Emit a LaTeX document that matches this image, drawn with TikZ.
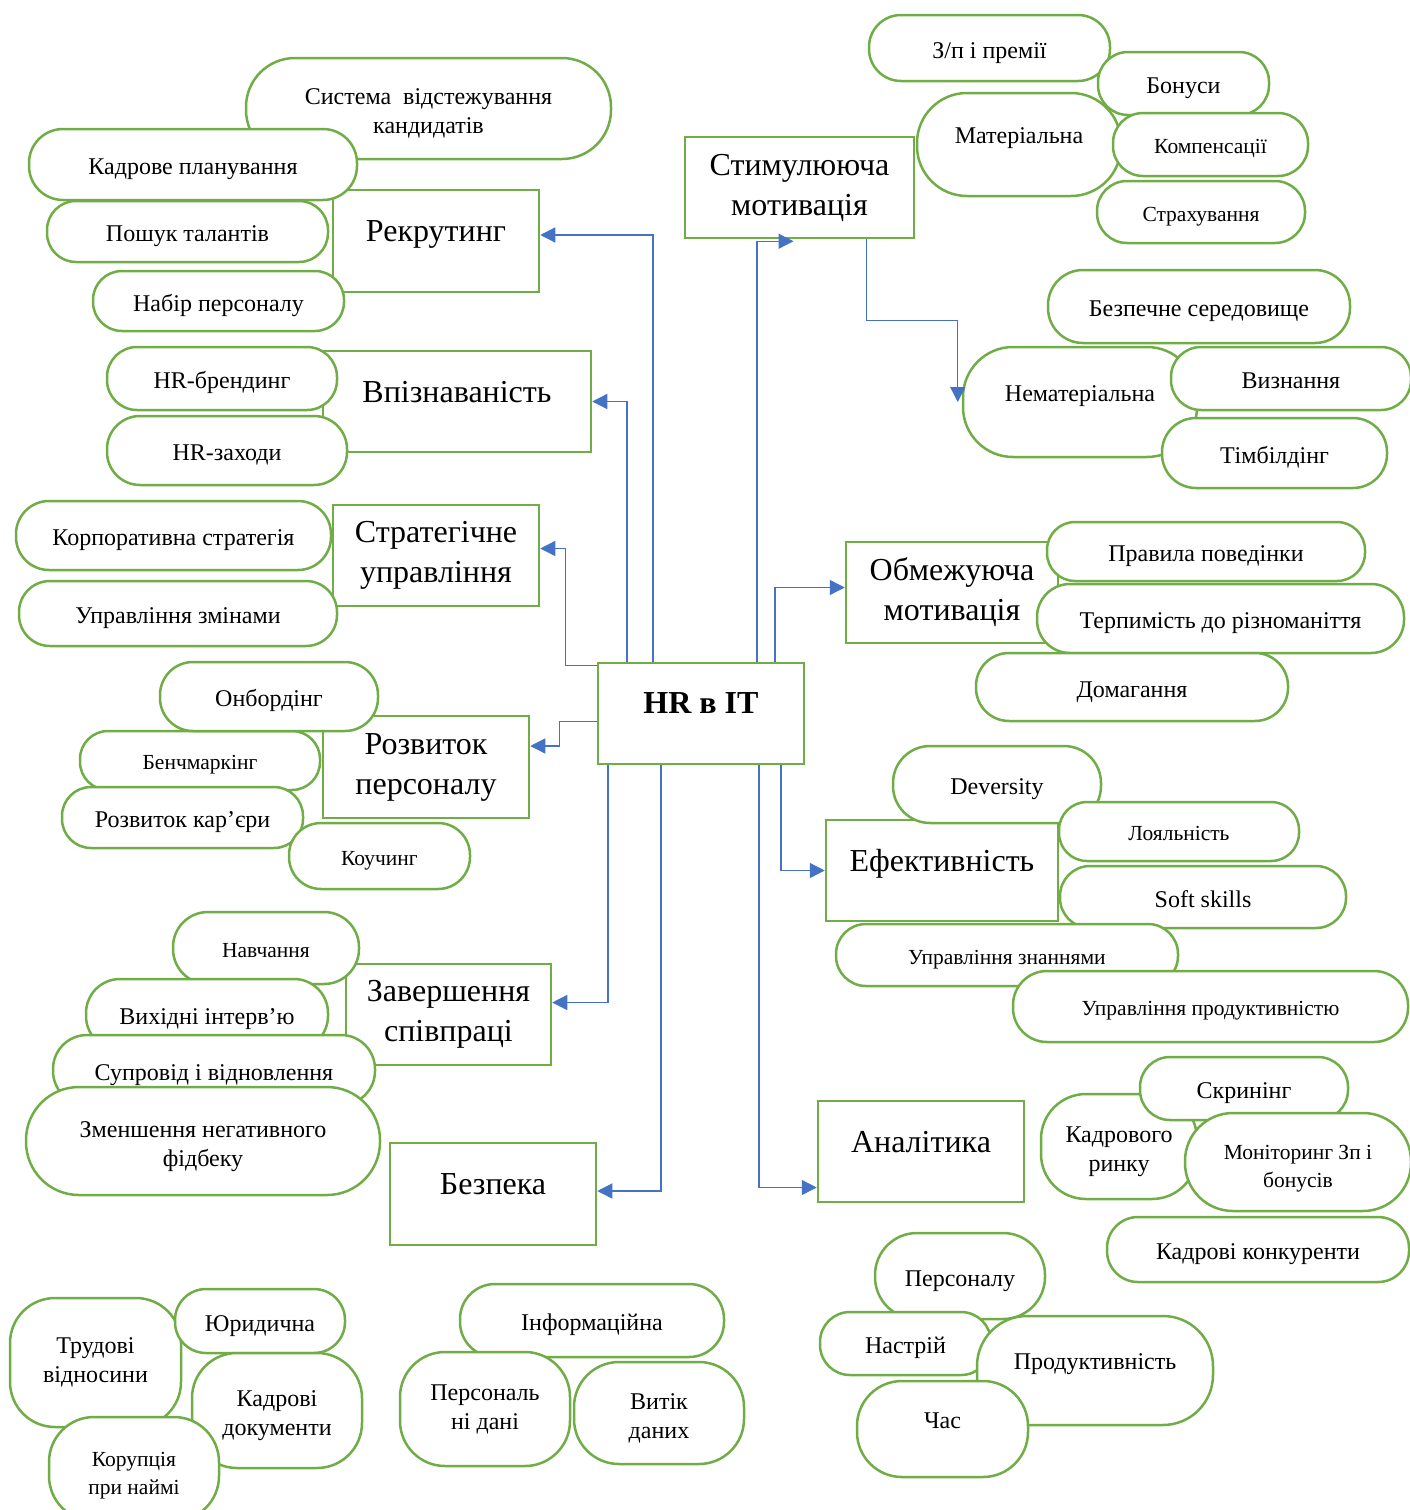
\documentclass[tikz,border=0pt]{standalone}
\usepackage{fontspec}
\setmainfont{Liberation Serif}
\usetikzlibrary{arrows.meta}
\definecolor{hrgreen}{HTML}{70AD47}
\definecolor{hrblue}{HTML}{4472C4}
\tikzstyle{mainbox} = [draw=hrgreen, line width=2.5pt, fill=white, align=center, font=\fontsize{32}{40}\selectfont]
\tikzstyle{pill} = [draw=hrgreen, line width=2.5pt, fill=white, align=center, text height=25pt, text depth=5pt, font=\fontsize{24}{29}\selectfont]
\tikzstyle{smallpill} = [pill, text height=22.5pt, text depth=4.5pt, font=\fontsize{21.5}{28}\selectfont]
\tikzstyle{twolines} = [text height=, text depth=]
\tikzstyle{lowered} = [text height=55pt, text depth=5pt]
\tikzstyle{lifted} = [text depth=20pt]
\tikzstyle{liftedpill} = [text depth=27pt]
\tikzstyle{arrow} = [draw=hrblue, line width=1.3pt, -{Triangle[length=15pt,width=15pt]}]

\begin{document}
\begin{tikzpicture}[x=1pt, y=-1pt]
        \useasboundingbox (0,0) rectangle (1409,1510);

        % Recruiting
        \node[pill, lowered, minimum width=365pt, minimum height=101pt, rounded corners=49pt] (tracking) at (428.5,108.5) {Система\ \ відстежування\\кандидатів};
        \node[mainbox, lifted, minimum width=206pt, minimum height=102pt] (recruit) at (436,241) {Рекрутинг};
        \node[pill, minimum width=328pt, minimum height=71pt, rounded corners=34pt] (planning) at (193,164.5) {Кадрове планування};
        \node[pill, minimum width=281pt, minimum height=61pt, rounded corners=29pt] (search) at (187.5,231.5) {Пошук талантів};
        \node[pill, minimum width=251pt, minimum height=60pt, rounded corners=29pt] (hiring) at (218.5,301) {Набір персоналу};

        % Brand
        \node[mainbox, lifted, minimum width=268pt, minimum height=101pt] (brand) at (457,401.5) {Впізнаваність};
        \node[pill, minimum width=230pt, minimum height=63pt, rounded corners=30pt] (hrbrand) at (222,378.5) {HR-брендинг};
        \node[pill, minimum width=240pt, minimum height=69pt, rounded corners=33pt] (hrevents) at (227,450.5) {HR-заходи};

        % Strategy
        \node[mainbox, minimum width=206pt, minimum height=101pt] (strat) at (436,555.5) {Стратегічне\\управління};
        \node[pill, minimum width=315pt, minimum height=69pt, rounded corners=33pt] (corp) at (173.5,535.5) {Корпоративна стратегія};
        \node[pill, minimum width=318pt, minimum height=65pt, rounded corners=31pt] (change) at (178,613.5) {Управління змінами};

        % Development
        \node[mainbox, minimum width=206pt, minimum height=102pt] (dev) at (426,767) {Розвиток\\персоналу};
        \node[smallpill, minimum width=240pt, minimum height=59pt, rounded corners=28pt] (bench) at (200,760.5) {Бенчмаркінг};
        \node[pill, minimum width=218pt, minimum height=69pt, rounded corners=33pt] (onboard) at (269,696.5) {Онбордінг};
        \node[pill, minimum width=241pt, minimum height=61pt, rounded corners=29pt] (career) at (182.5,817.5) {Розвиток кар’єри};
        \node[smallpill, minimum width=181pt, minimum height=66pt, rounded corners=32pt] (coach) at (379.5,856) {Коучинг};

        % Offboarding
        \node[mainbox, minimum width=205pt, minimum height=101pt] (ending) at (448.5,1014.5) {Завершення\\співпраці};
        \node[smallpill, minimum width=186pt, minimum height=72pt, rounded corners=35pt] (training) at (266,948) {Навчання};
        \node[pill, minimum width=242pt, minimum height=71pt, rounded corners=34pt] (exitint) at (207,1014.5) {Вихідні інтерв’ю};
        \node[pill, minimum width=322pt, minimum height=70pt, rounded corners=34pt] (support) at (214,1070) {Супровід і відновлення};
        \node[pill, lowered, minimum width=354pt, minimum height=108pt, rounded corners=53pt] (feedback) at (203,1141) {Зменшення негативного\\фідбеку};

        % Security
        \node[mainbox, lifted, minimum width=206pt, minimum height=102pt] (safety) at (493,1194) {Безпека};
        \node[pill, twolines, minimum width=171pt, minimum height=129pt, rounded corners=45pt] (labor) at (95.5,1362.5) {Трудові\\відносини};
        \node[pill, minimum width=170pt, minimum height=64pt, rounded corners=31pt] (legal) at (260,1321) {Юридична};
        \node[pill, lowered, minimum width=170pt, minimum height=115pt, rounded corners=45pt] (docs) at (277,1410.5) {Кадрові\\документи};
        \node[smallpill, lowered, minimum width=170pt, minimum height=104pt, rounded corners=45pt] (corrupt) at (134,1469) {Корупція\\при наймі};
        \node[pill, minimum width=264pt, minimum height=73pt, rounded corners=35pt] (infosec) at (592,1320.5) {Інформаційна};
        \node[pill, twolines, minimum width=170pt, minimum height=114pt, rounded corners=45pt] (personal) at (485,1409) {Персональ\\ні дані};
        \node[pill, lowered, minimum width=170pt, minimum height=102pt, rounded corners=45pt] (leak) at (659,1413) {Витік\\даних};

        % Stimulating motivation
        \node[mainbox, minimum width=229pt, minimum height=101pt] (stimul) at (799.5,187.5) {Стимулююча\\мотивація};
        \node[pill, minimum width=241pt, minimum height=66pt, rounded corners=32pt] (salary) at (989.5,48) {З/п і премії};
        \node[pill, liftedpill, minimum width=204pt, minimum height=103pt, rounded corners=50pt] (material) at (1019,144.5) {Матеріальна};
        \node[pill, minimum width=171pt, minimum height=63pt, rounded corners=30pt] (bonus) at (1183.5,83.5) {Бонуси};
        \node[smallpill, minimum width=195pt, minimum height=63pt, rounded corners=30pt] (compens) at (1210.5,144.5) {Компенсації};
        \node[smallpill, minimum width=208pt, minimum height=62pt, rounded corners=30pt] (insur) at (1201,212) {Страхування};
        \node[pill, minimum width=302pt, minimum height=73pt, rounded corners=35pt] (safeenv) at (1199,306.5) {Безпечне середовище};
        \node[pill, liftedpill, minimum width=234pt, minimum height=110pt, rounded corners=50pt] (nonmat) at (1080,402) {Нематеріальна};
        \node[pill, minimum width=240pt, minimum height=63pt, rounded corners=30pt] (recog) at (1291,378.5) {Визнання};
        \node[pill, minimum width=225pt, minimum height=70pt, rounded corners=34pt] (teamb) at (1274.5,453) {Тімбілдінг};

        % Restricting motivation
        \node[mainbox, minimum width=212pt, minimum height=101pt] (restrict) at (952,592.5) {Обмежуюча\\мотивація};
        \node[pill, minimum width=318pt, minimum height=59pt, rounded corners=28pt] (rules) at (1206,551.5) {Правила поведінки};
        \node[pill, minimum width=367pt, minimum height=69pt, rounded corners=33pt] (toler) at (1220.5,618.5) {Терпимість до різноманіття};
        \node[pill, minimum width=312pt, minimum height=68pt, rounded corners=33pt] (harass) at (1132,687) {Домагання};

        % Efficiency
        \node[mainbox, lifted, minimum width=232pt, minimum height=101pt] (efficiency) at (942,870.5) {Ефективність};
        \node[pill, minimum width=208pt, minimum height=77pt, rounded corners=37pt] (divers) at (997,784.5) {Deversity};
        \node[smallpill, minimum width=240pt, minimum height=59pt, rounded corners=28pt] (loyal) at (1179,831.5) {Лояльність};
        \node[pill, minimum width=286pt, minimum height=62pt, rounded corners=30pt] (soft) at (1203,897) {Soft skills};
        \node[smallpill, minimum width=342pt, minimum height=62pt, rounded corners=30pt] (knowl) at (1007,955) {Управління знаннями};
        \node[smallpill, minimum width=395pt, minimum height=71pt, rounded corners=34pt] (perf) at (1210.5,1006.5) {Управління продуктивністю};

        % Analytics
        \node[mainbox, lifted, minimum width=206pt, minimum height=101pt] (analytics) at (921,1151.5) {Аналітика};
        \node[pill, lowered, minimum width=156pt, minimum height=105pt, rounded corners=45pt] (market) at (1119,1146.5) {Кадрового\\ринку};
        \node[pill, minimum width=208pt, minimum height=63pt, rounded corners=30pt] (screen) at (1244,1088.5) {Скринінг};
        \node[smallpill, lowered, minimum width=226pt, minimum height=98pt, rounded corners=48pt] (monitor) at (1298,1162) {Моніторинг Зп і\\бонусів};
        \node[pill, minimum width=302pt, minimum height=65pt, rounded corners=31pt] (compet) at (1258,1249.5) {Кадрові конкуренти};
        \node[pill, minimum width=170pt, minimum height=86pt, rounded corners=42pt] (staff) at (960,1276) {Персоналу};
        \node[pill, minimum width=171pt, minimum height=63pt, rounded corners=30pt] (mood) at (905.5,1343.5) {Настрій};
        \node[pill, liftedpill, minimum width=236pt, minimum height=109pt, rounded corners=50pt] (product) at (1095,1370.5) {Продуктивність};
        \node[pill, liftedpill, minimum width=171pt, minimum height=96pt, rounded corners=45pt] (timenode) at (942.5,1429) {Час};

        % Centre
        \node[mainbox, lifted, minimum width=206pt, minimum height=101pt, font=\fontsize{32}{40}\selectfont\bfseries] (hr) at (701,713.5) {HR в IT};

        % Arrows
        \draw[arrow] ([xshift=-48pt]hr.north) |- ([yshift=6pt]recruit.east);
        \draw[arrow] ([xshift=-74pt]hr.north) |- (brand.east);
        \draw[arrow] ([yshift=48pt]hr.west) -- ++(-31pt,0pt) |- ([yshift=7pt]strat.east);
        \draw[arrow] ([yshift=-8pt]hr.west) -- ++(-37pt,0pt) |- ([yshift=21pt]dev.east);
        \draw[arrow] ([xshift=-93pt]hr.south) |- ([yshift=12pt]ending.east);
        \draw[arrow] ([xshift=-40pt]hr.south) |- ([yshift=3pt]safety.east);
        \draw[arrow] ([xshift=58pt]hr.south) |- ([yshift=-36pt]analytics.west);
        \draw[arrow] ([xshift=80pt]hr.south) |- (efficiency.west);
        \draw[arrow] ([xshift=56pt]hr.north) |- ([xshift=-6pt,yshift=-2pt]stimul.south);
        \draw[arrow] ([xshift=74pt]hr.north) |- ([yshift=5pt]restrict.west);
        \draw[arrow] ([xshift=67pt]stimul.south) -- ++(0pt,-81pt) -| ([xshift=-4pt]nonmat.west);
\end{tikzpicture}
\end{document}
